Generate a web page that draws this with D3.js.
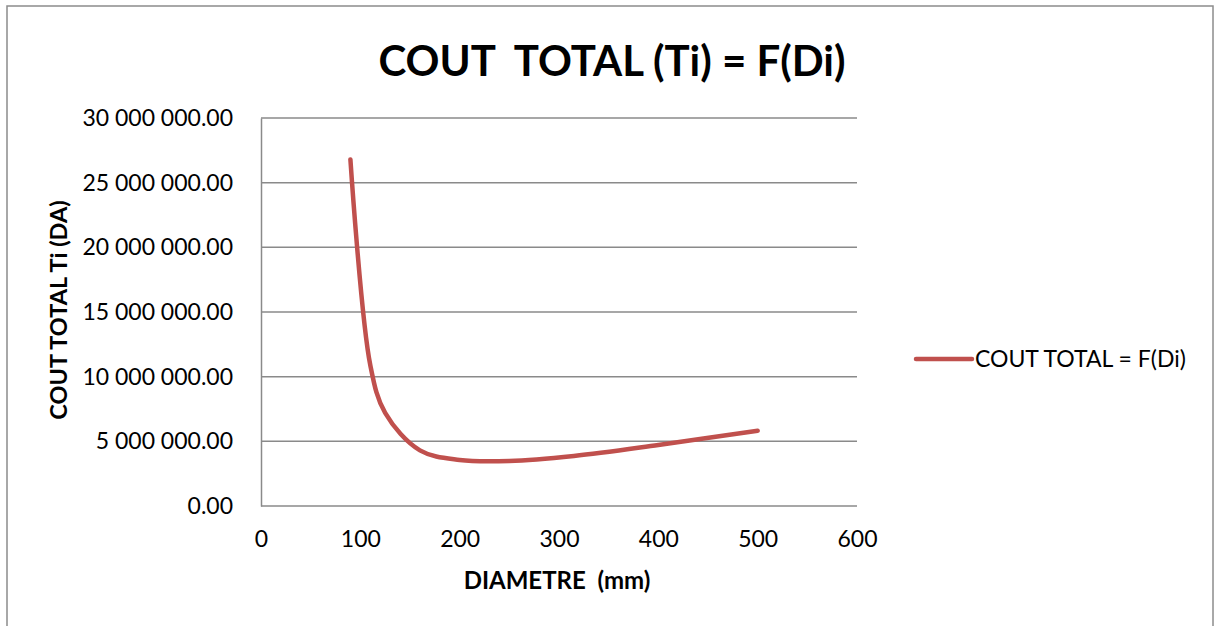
<!DOCTYPE html>
<html>
<head>
<meta charset="utf-8">
<script src="https://cdn.jsdelivr.net/npm/d3@7"></script>
<style>
  html, body { margin: 0; padding: 0; background: #fff; }
  svg { display: block; font-family: Lato, "Open Sans", sans-serif; }
</style>
</head>
<body>
<div id="chart"></div>
<script>
// diameters (mm) and total cost (DA)
const diametres = [90, 110, 125, 160, 200, 250, 315, 400, 500];
const coutTotal = [26800000, 10900000, 7200000, 4300000, 3560000, 3480000, 3870000, 4720000, 5820000];
const xTicks = [0, 100, 200, 300, 400, 500, 600];
const yTicks = [0, 5000000, 10000000, 15000000, 20000000, 25000000, 30000000];
const seriesName = "COUT TOTAL = F(Di)";

const width = 1217, height = 626;
const plot = { left: 261, top: 118, right: 857, bottom: 506 };

const svg = d3.select("#chart").append("svg").attr("width", width).attr("height", height);

// outer chart frame
svg.append("rect").attr("x", 7).attr("y", 6).attr("width", 1206).attr("height", 640)
  .attr("fill", "none").attr("stroke", "#8c8c8c").attr("stroke-width", 1.5);

const x = d3.scaleLinear().domain([0, 600]).range([plot.left, plot.right]);
const y = d3.scaleLinear().domain([0, 30000000]).range([plot.bottom, plot.top]);

const fmt = v => d3.format(",.2f")(v).replace(/,/g, " ");

// gridlines
svg.append("g").selectAll("line").data(yTicks).enter().append("line")
  .attr("x1", plot.left).attr("x2", plot.right)
  .attr("y1", d => y(d)).attr("y2", d => y(d))
  .attr("stroke", "#8a8a8a").attr("stroke-width", 1.5);

// y axis
const yAxis = svg.append("g").attr("transform", `translate(${plot.left},0)`)
  .call(d3.axisLeft(y).tickValues(yTicks).tickFormat(fmt).tickSize(0).tickPadding(28));
yAxis.select(".domain").attr("stroke", "#8a8a8a").attr("stroke-width", 1.5);
yAxis.selectAll("text").attr("font-size", 23).attr("fill", "#000").attr("font-family", "Lato");

// x axis
const xAxis = svg.append("g").attr("transform", `translate(0,${plot.bottom})`)
  .call(d3.axisBottom(x).tickValues(xTicks).tickFormat(d3.format("d")).tickSize(0).tickPadding(25));
xAxis.select(".domain").remove();
xAxis.selectAll("text").attr("font-size", 23).attr("fill", "#000").attr("font-family", "Lato");

// series
const line = d3.line().x((d, i) => x(diametres[i])).y(d => y(d)).curve(d3.curveCatmullRom.alpha(0.5));
svg.append("path").datum(coutTotal).attr("d", line)
  .attr("fill", "none").attr("stroke", "#c0504d").attr("stroke-width", 4.5)
  .attr("stroke-linecap", "round").attr("stroke-linejoin", "round");

// title
svg.append("text").text("COUT  TOTAL (Ti) = F(Di)").attr("x", 612).attr("y", 76)
  .attr("text-anchor", "middle").attr("font-size", 42).attr("font-weight", "bold")
  .style("white-space", "pre");

// axis titles
svg.append("text").text("DIAMETRE  (mm)").attr("x", 557).attr("y", 589)
  .attr("text-anchor", "middle").attr("font-size", 24).attr("font-weight", "bold")
  .style("white-space", "pre");
svg.append("text").text("COUT TOTAL Ti (DA)")
  .attr("transform", "translate(67,310) rotate(-90)")
  .attr("text-anchor", "middle").attr("font-size", 23.5).attr("font-weight", "bold");

// legend
const legend = svg.append("g").attr("transform", "translate(916,359)");
legend.append("line").attr("x1", 0).attr("x2", 56).attr("y1", 0).attr("y2", 0)
  .attr("stroke", "#c0504d").attr("stroke-width", 4.5).attr("stroke-linecap", "round");
legend.append("text").text(seriesName).attr("x", 59).attr("y", 8).attr("font-size", 23);
</script>
</body>
</html>
